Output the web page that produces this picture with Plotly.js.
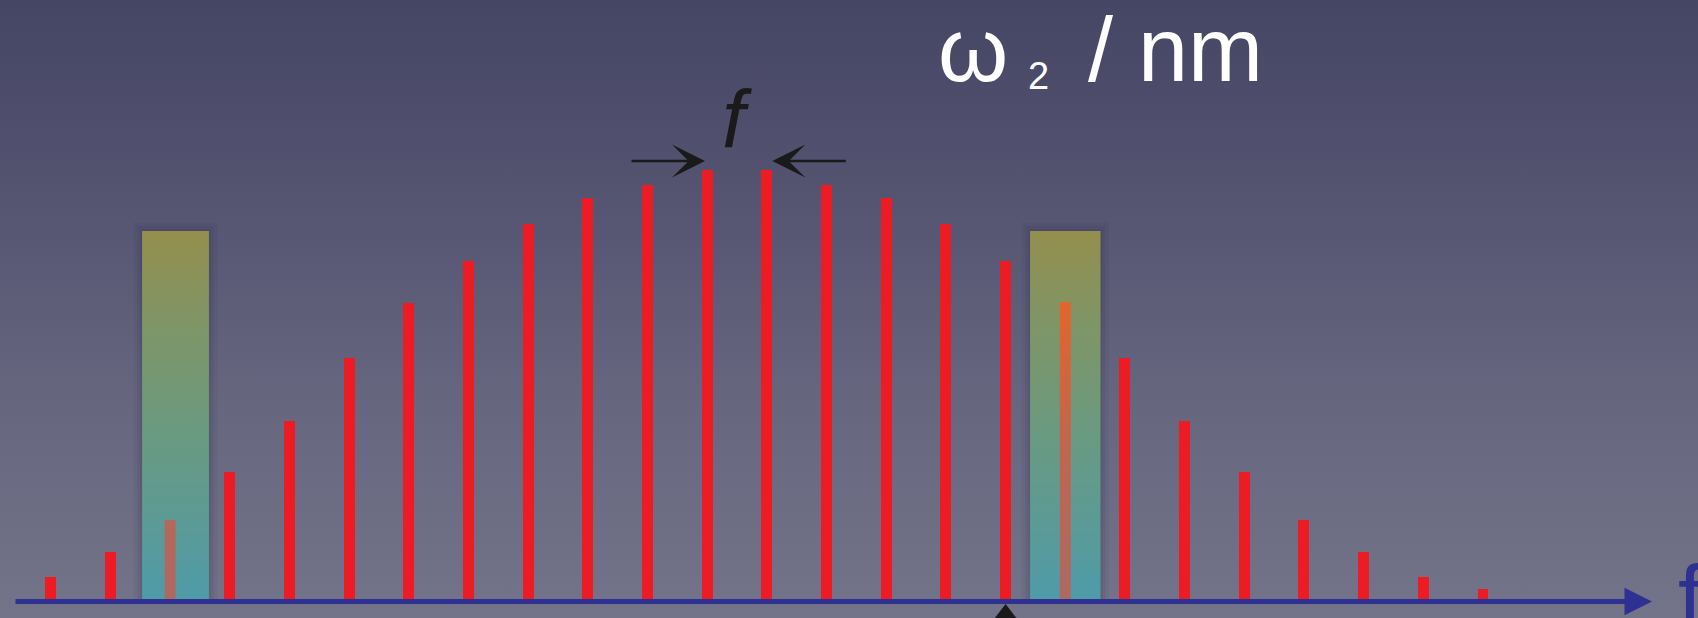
<!DOCTYPE html>
<html><head><meta charset="utf-8">
<script src="https://cdn.plot.ly/plotly-3.0.1.min.js"></script>
<style>
html,body{margin:0;padding:0;width:1698px;height:618px;overflow:hidden;background:#5c5c77;}
#chart{width:1698px;height:618px;background:linear-gradient(to bottom,#454564 0%,#565673 35%,#66667f 65%,#737389 100%);}
</style></head><body><div id="chart"></div>
<script>
// comb lines (harmonic index) and their relative amplitudes
const harmonicIndex = [0,1,2,3,4,5,6,7,8,9,10,11,12,13,14,15,16,17,18,19,20,21,22,23,24];
const amplitude = [5.1,10.9,18.4,29.6,41.5,56.1,68.9,78.7,87.3,93.4,96.4,100,100,96.4,93.4,87.3,78.7,69.1,56.1,41.5,29.6,18.4,10.9,5.1,2.3];
// highlighted bands (filter windows)
const bandStart = [1.53, 16.41];
const bandEnd = [2.65, 17.59];
const bandTop = [85.7, 85.7];
const highlightedHarmonics = [2, 17];
// marked harmonic (arrow from below)
const markedHarmonic = [16];
// labels
const titleParts = ['ω', '2', '/ nm'];
const spacingLabel = 'f';
const axisLabel = 'f';

const BAR_W = 0.184;
const RED = '#ed1c24';
const BLUE = '#2e3192';
const FONT = 'Liberation Sans, Arial, sans-serif';

const traces = [];
traces.push({
  type: 'bar', x: harmonicIndex, y: amplitude, width: BAR_W,
  marker: {color: RED, line: {width: 0}}, hoverinfo: 'skip'
});

function rect(x0, x1, y0, y1) {
  return {x: [x0, x1, x1, x0, x0], y: [y0, y0, y1, y1, y0]};
}
// shadows + bands
for (let b = 0; b < bandStart.length; b++) {
  [[0.14, 2.0, 0.06], [0.08, 1.2, 0.07], [0.035, 0.5, 0.08]].forEach(function (s) {
    const r = rect(bandStart[b] - s[0], bandEnd[b] + s[0], 0, bandTop[b] + s[1]);
    traces.push({type: 'scatter', mode: 'none', x: r.x, y: r.y, fill: 'toself',
      fillcolor: 'rgba(35,35,60,' + s[2] + ')', hoverinfo: 'skip'});
  });
  const r = rect(bandStart[b], bandEnd[b], 0, bandTop[b]);
  traces.push({type: 'scatter', mode: 'none', x: r.x, y: r.y, fill: 'toself',
    fillgradient: {type: 'vertical', start: 0, stop: bandTop[b],
      colorscale: [[0, '#4f9ba9'], [0.45, '#6a9a80'], [0.75, '#7f9566'], [1, '#948f4d']]},
    hoverinfo: 'skip'});
}
// harmonics seen through the bands
highlightedHarmonics.forEach(function (h, b) {
  const r = rect(harmonicIndex[h] - BAR_W / 2, harmonicIndex[h] + BAR_W / 2, 0, amplitude[h]);
  traces.push({type: 'scatter', mode: 'none', x: r.x, y: r.y, fill: 'toself',
    fillgradient: {type: 'vertical', start: 0, stop: bandTop[b],
      colorscale: [[0, '#ad6962'], [0.4, '#bf6650'], [0.8, '#e2652c'], [1, '#ef6420']]},
    hoverinfo: 'skip'});
});
// arrow tip from below, pointing at the marked harmonic (mostly cropped by the frame)
traces.push({type: 'scatter', mode: 'markers', x: markedHarmonic, y: [-4.2],
  cliponaxis: false, hoverinfo: 'skip',
  marker: {symbol: 'triangle-up', size: 26, color: '#1a1a1a', line: {width: 0}}});

const annotations = [
  // frequency axis arrow
  {x: 26.832, y: -0.6, xref: 'x', yref: 'y', ax: -1638, ay: 0, axref: 'pixel', ayref: 'pixel',
   text: '', showarrow: true, arrowhead: 2, arrowwidth: 5, arrowsize: 1.1, arrowcolor: BLUE, standoff: 0},
  // spacing arrows
  {x: 10.963, y: 102, xref: 'x', yref: 'y', ax: -75, ay: 0, text: '', showarrow: true,
   arrowhead: 3, arrowwidth: 2.5, arrowsize: 2.2, arrowcolor: '#1a1a1a', standoff: 0},
  {x: 12.091, y: 102, xref: 'x', yref: 'y', ax: 75, ay: 0, text: '', showarrow: true,
   arrowhead: 3, arrowwidth: 2.5, arrowsize: 2.2, arrowcolor: '#1a1a1a', standoff: 0},
  // spacing label
  {x: 11.5, y: 1 - 166 / 618, xref: 'x', yref: 'paper', xanchor: 'center', yanchor: 'bottom',
   text: '<i>' + spacingLabel + '</i>', showarrow: false,
   font: {family: FONT, size: 82, color: '#1a1a1a'}},
  // title pieces
  {x: 936 / 1698, y: 1 - 102.4 / 618, xref: 'paper', yref: 'paper', xanchor: 'left', yanchor: 'bottom',
   text: titleParts[0], showarrow: false, font: {family: FONT, size: 90, color: '#ffffff'}},
  {x: 1026 / 1698, y: 1 - 99.3 / 618, xref: 'paper', yref: 'paper', xanchor: 'left', yanchor: 'bottom',
   text: titleParts[1], showarrow: false, font: {family: FONT, size: 38, color: '#ffffff'}},
  {x: 1086 / 1698, y: 1 - 102.4 / 618, xref: 'paper', yref: 'paper', xanchor: 'left', yanchor: 'bottom',
   text: titleParts[2], showarrow: false, font: {family: FONT, size: 90, color: '#ffffff'}},
  // axis label (cropped at right edge, as in the original)
  {x: 1676 / 1698, y: 1 - 546 / 618, xref: 'paper', yref: 'paper', xanchor: 'left', yanchor: 'top',
   text: axisLabel, showarrow: false, font: {family: FONT, size: 90, color: BLUE}}
];

const layout = {
  width: 1698, height: 618,
  margin: {l: 0, r: 0, t: 0, b: 0, pad: 0},
  paper_bgcolor: 'rgba(0,0,0,0)', plot_bgcolor: 'rgba(0,0,0,0)',
  showlegend: false,
  xaxis: {range: [-0.8513, 27.603], visible: false, fixedrange: true},
  yaxis: {range: [-4.43, 139.53], visible: false, fixedrange: true},
  bargap: 0,
  annotations: annotations
};
Plotly.newPlot('chart', traces, layout, {displayModeBar: false, staticPlot: true});
</script></body></html>
